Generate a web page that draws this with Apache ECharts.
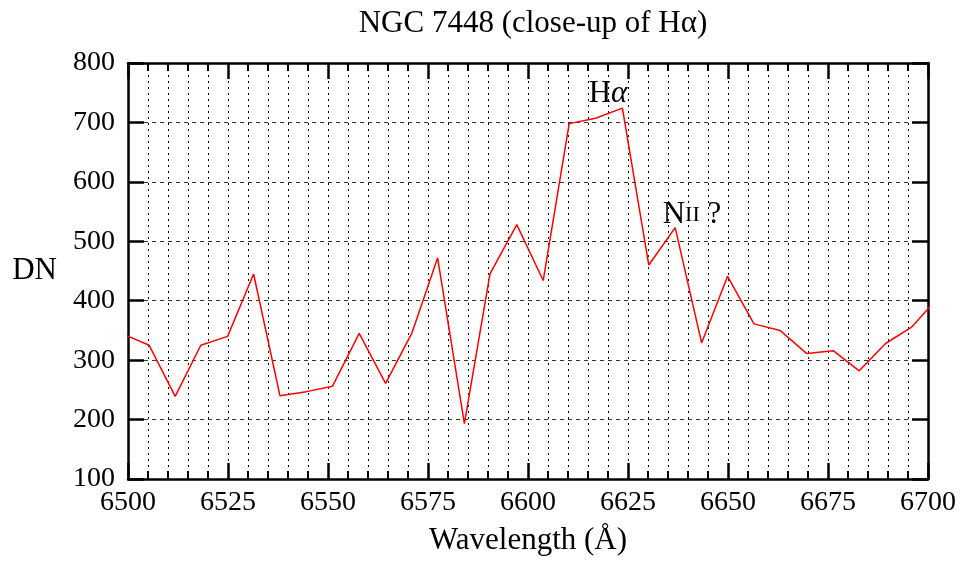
<!DOCTYPE html>
<html>
<head>
<meta charset="utf-8">
<script src="https://cdn.jsdelivr.net/npm/echarts@6/dist/echarts.min.js"></script>
<style>
  html, body { margin: 0; padding: 0; background: #fff; }
  #chart { width: 964px; height: 561px; }
</style>
</head>
<body>
<div id="chart"></div>
<script>
// spectrum samples (Å, DN); first and last fall just outside the axis range
const wavelengths = [6498.7, 6505.3, 6511.8, 6518.2, 6524.9, 6531.4, 6538.0, 6544.6, 6551.1, 6557.8,
  6564.4, 6571.0, 6577.4, 6584.1, 6590.5, 6597.2, 6603.8, 6610.3, 6616.9, 6623.6,
  6630.2, 6636.8, 6643.4, 6649.9, 6656.5, 6663.0, 6669.7, 6676.3, 6682.8, 6689.4,
  6696.0, 6702.6]
const counts = [344, 325, 239, 325, 340, 445, 240, 247, 256, 345,
  261, 346, 472, 193, 445, 528, 434, 698, 707, 724,
  460, 523, 329, 441, 361, 350, 311, 316, 282, 328,
  356, 406]
const xTicks = [6500, 6525, 6550, 6575, 6600, 6625, 6650, 6675, 6700]
const yTicks = [100, 200, 300, 400, 500, 600, 700, 800]
const labels = [
  { name: 'Hα', coord: [6620, 750] },
  { name: 'NII ?', coord: [6641, 547] }
]

const font = 'Liberation Serif'
const fs = 31      // title, axis names, annotations
const tickFs = 28  // tick numbers

const chart = echarts.init(document.getElementById('chart'))

function xAxisDef(pos, showLabels) {
  return {
    type: 'value',
    position: pos,
    min: xTicks[0],
    max: xTicks[xTicks.length - 1],
    interval: 25,
    name: showLabels ? 'Wavelength (Å)' : '',
    nameLocation: 'middle',
    nameGap: 46,
    nameTextStyle: { fontFamily: font, fontSize: fs, color: '#000' },
    axisLine: { show: true, onZero: false, lineStyle: { color: '#000', width: 2.5 } },
    axisTick: { show: true, inside: true, length: 16, lineStyle: { color: '#000', width: 2.5 } },
    minorTick: { show: true, splitNumber: 5, length: 8, lineStyle: { color: '#000', width: 2 } },
    axisLabel: { show: showLabels, fontFamily: font, fontSize: tickFs, color: '#000', margin: 10,
      formatter: v => String(v) },
    splitLine: { show: showLabels, lineStyle: { color: '#000', type: [2, 4], width: 1 } },
    minorSplitLine: { show: showLabels, lineStyle: { color: '#000', type: [2, 4], width: 1 } }
  }
}

function yAxisDef(pos, showLabels) {
  return {
    type: 'value',
    position: pos,
    min: yTicks[0],
    max: yTicks[yTicks.length - 1],
    interval: 100,
    name: showLabels ? 'DN' : '',
    nameLocation: 'middle',
    nameRotate: 0,
    nameGap: 71,
    nameTextStyle: { fontFamily: font, fontSize: fs, color: '#000' },
    axisLine: { show: true, onZero: false, lineStyle: { color: '#000', width: 2.5 } },
    axisTick: { show: true, inside: true, length: 16, lineStyle: { color: '#000', width: 2.5 } },
    axisLabel: { show: showLabels, fontFamily: font, fontSize: tickFs, color: '#000', margin: 13 },
    splitLine: { show: showLabels, lineStyle: { color: '#333', type: [4, 4], width: 1 } }
  }
}

chart.setOption({
  animation: false,
  backgroundColor: '#fff',
  title: {
    text: 'NGC 7448 (close-up of Hα)',
    left: 528,
    top: 3,
    textAlign: 'center',
    textStyle: { fontFamily: font, fontSize: fs, fontWeight: 'normal', color: '#000' }
  },
  grid: { left: 128, right: 36, top: 63, bottom: 81 },
  xAxis: [xAxisDef('bottom', true), xAxisDef('top', false)],
  yAxis: [yAxisDef('left', true), yAxisDef('right', false)],
  series: [{
    type: 'line',
    data: wavelengths.map((w, i) => [w, counts[i]]),
    showSymbol: false,
    clip: true,
    lineStyle: { color: '#ff0000', width: 1.5 },
    markPoint: {
      symbol: 'circle',
      symbolSize: 0,
      label: {
        show: true,
        position: 'inside',
        color: '#000',
        formatter: p => p.name === 'NII ?' ? '{a|N}{b|II}{a| ?}' : '{a|H}{c|α}',
        rich: {
          a: { fontFamily: font, fontSize: fs, color: '#000', lineHeight: 34, verticalAlign: 'bottom' },
          b: { fontFamily: font, fontSize: 22, color: '#000', lineHeight: 34, verticalAlign: 'bottom', padding: [0, 0, 4, 0] },
          c: { fontFamily: font, fontSize: fs, fontStyle: 'italic', color: '#000', lineHeight: 34, verticalAlign: 'bottom' }
        }
      },
      data: labels.map(l => ({ name: l.name, coord: l.coord }))
    }
  }]
})
</script>
</body>
</html>
